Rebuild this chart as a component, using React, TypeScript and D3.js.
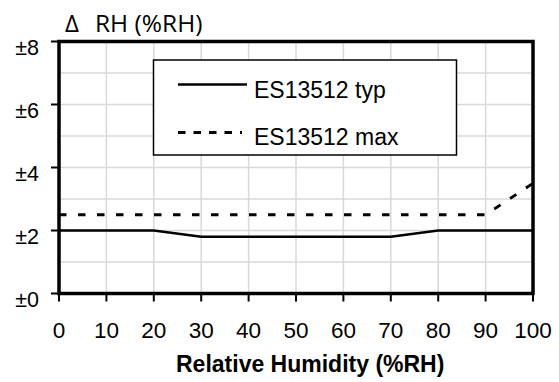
import React from "react";
import * as d3 from "d3";

const rhValues = [0, 20, 30, 70, 80, 100];
const typValues = [2, 2, 1.8, 1.8, 2, 2];
const maxRh = [0, 90, 100];
const maxValues = [2.5, 2.5, 3.5];
const xTicks = [0, 10, 20, 30, 40, 50, 60, 70, 80, 90, 100];
const yTicks = [0, 2, 4, 6, 8];
const yGrid = [1, 2, 3, 4, 5, 6, 7];
const legendLabels = ["ES13512 typ", "ES13512 max"];

const W = 559;
const H = 382;

const App = () => {
  const x = d3.scaleLinear().domain([0, 100]).range([59, 533]);
  const y = d3.scaleLinear().domain([0, 8]).range([293.5, 41.5]);

  const line = d3
    .line<[number, number]>()
    .x((d) => x(d[0]))
    .y((d) => y(d[1]));

  const typPath = line(rhValues.map((v, i) => [v, typValues[i]]));
  const maxPath = line(maxRh.map((v, i) => [v, maxValues[i]]));

  const tickFont = "'Liberation Sans', Arial, sans-serif";
  const titleFont = "'Open Sans', Lato, sans-serif";

  return (
    <svg
      width={W}
      height={H}
      style={{ position: "absolute", left: 0, top: 0, background: "#fff" }}
    >
      {/* grid */}
      {xTicks.slice(1, -1).map((t) => (
        <line
          key={"gx" + t}
          x1={x(t)}
          x2={x(t)}
          y1={y(8)}
          y2={y(0)}
          stroke="#d9d9d9"
          strokeWidth={1.5}
        />
      ))}
      {yGrid.map((t) => (
        <line
          key={"gy" + t}
          x1={x(0)}
          x2={x(100)}
          y1={y(t)}
          y2={y(t)}
          stroke="#d9d9d9"
          strokeWidth={1.5}
        />
      ))}

      {/* series */}
      <path d={maxPath ?? ""} fill="none" stroke="#000" strokeWidth={2.8} strokeDasharray="7.5,11.5" />
      <path d={typPath ?? ""} fill="none" stroke="#000" strokeWidth={2.5} />

      {/* frame */}
      <rect
        x={x(0)}
        y={y(8)}
        width={x(100) - x(0)}
        height={y(0) - y(8)}
        fill="none"
        stroke="#000"
        strokeWidth={3.5}
      />

      {/* y axis */}
      {yTicks.map((t) => (
        <g key={"yt" + t}>
          <line x1={x(0) - 8} x2={x(0)} y1={y(t)} y2={y(t)} stroke="#000" strokeWidth={2} />
          <text
            x={39}
            y={y(t) + 13}
            textAnchor="end"
            fontFamily={tickFont}
            fontSize={21.5}
            fill="#000"
          >
            {"±" + t}
          </text>
        </g>
      ))}

      {/* x axis */}
      {xTicks.map((t) => (
        <g key={"xt" + t}>
          <line x1={x(t)} x2={x(t)} y1={y(0)} y2={y(0) + 8} stroke="#000" strokeWidth={2} />
          <text
            x={x(t)}
            y={337.5}
            textAnchor="middle"
            fontFamily={tickFont}
            fontSize={22.5}
            fill="#000"
          >
            {t}
          </text>
        </g>
      ))}

      <text
        x={176}
        y={371.5}
        fontFamily={tickFont}
        fontWeight="bold"
        fontSize={23}
        fill="#000"
      >
        Relative Humidity (%RH)
      </text>

      <text x={65} y={31.5} fontFamily={titleFont} fontSize={24} fill="#000">
        Δ
      </text>
      <text x={95} y={31.5} fontFamily={titleFont} fontSize={24.5} fill="#000">
        RH (%RH)
      </text>

      {/* legend */}
      <rect x={153.5} y={60} width={303} height={95} fill="#fff" stroke="#000" strokeWidth={1.5} />
      <line x1={178} x2={247} y1={84.5} y2={84.5} stroke="#000" strokeWidth={2.5} />
      <line
        x1={178}
        x2={242}
        y1={132.5}
        y2={132.5}
        stroke="#000"
        strokeWidth={2.8}
        strokeDasharray="7.5,8"
      />
      {legendLabels.map((l, i) => (
        <text
          key={l}
          x={254}
          y={97.5 + i * 47.5}
          fontFamily={tickFont}
          fontSize={23}
          fill="#000"
        >
          {l}
        </text>
      ))}
    </svg>
  );
};

export default App;
